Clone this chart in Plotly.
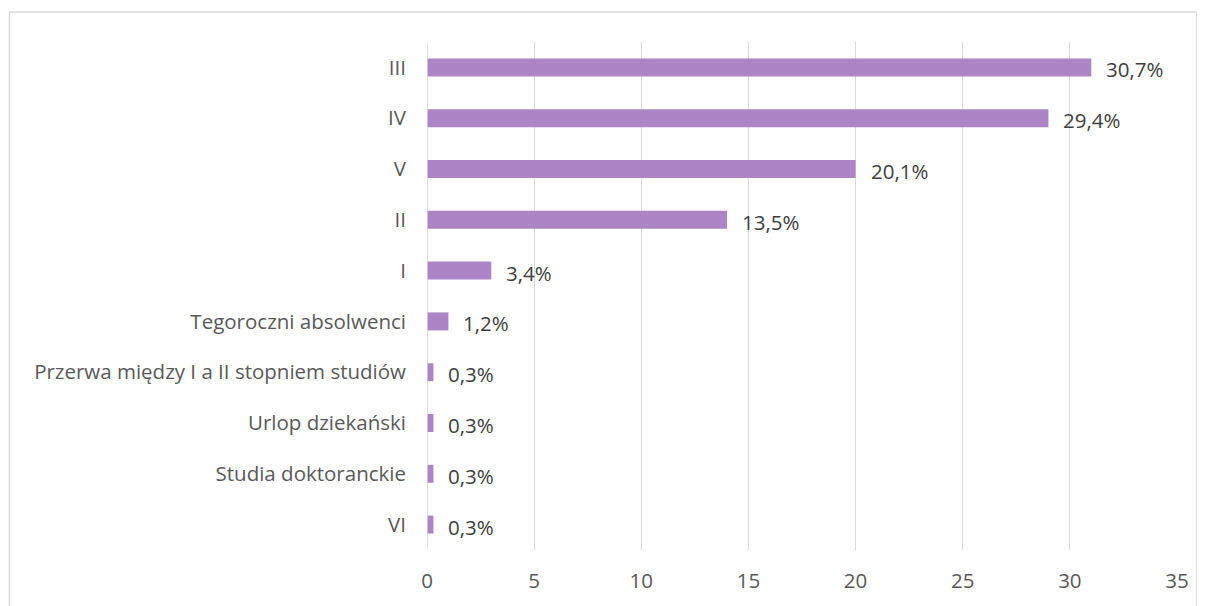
import plotly.graph_objects as go

categories = ["III", "IV", "V", "II", "I", "Tegoroczni absolwenci",
              "Przerwa między I a II stopniem studiów", "Urlop dziekański",
              "Studia doktoranckie", "VI"]
values = [31, 29, 20, 14, 3, 1, 0.3, 0.3, 0.3, 0.3]
labels = ["30,7%", "29,4%", "20,1%", "13,5%", "3,4%", "1,2%", "0,3%", "0,3%", "0,3%", "0,3%"]
x_ticks = [0, 5, 10, 15, 20, 25, 30, 35]

FONT = "Open Sans"
BAR = "#AD84C6"
FS = 20.5

# page has 8px body margin; compensate
L, T = 427 - 8, 42 - 8
R = 1205 + 8 - 1177
B = 606 + 8 - 550
PW = 750
PH = 508

fig = go.Figure()
fig.add_trace(go.Bar(
    y=categories, x=values, orientation="h",
    marker=dict(color=BAR, line=dict(width=0)),
    hoverinfo="skip",
))

for c, v, t in zip(categories, values, labels):
    fig.add_annotation(x=v, y=c, text=t, showarrow=False, xanchor="left",
                       xshift=13, yshift=-2,
                       font=dict(family=FONT, size=FS, color="#404040"))

fig.update_layout(
    width=1205, height=606,
    margin=dict(l=L, r=R, t=T, b=B),
    paper_bgcolor="white", plot_bgcolor="white",
    showlegend=False,
    bargap=0.646,
    xaxis=dict(range=[0, 35], tickvals=x_ticks, showgrid=True, gridcolor="#D9D9D9",
               gridwidth=1.3, zeroline=False, showline=False, ticks="",
               tickfont=dict(family=FONT, size=FS, color="#595959"), ticklabelstandoff=16,
               fixedrange=True),
    yaxis=dict(categoryorder="array", categoryarray=categories[::-1],
               showgrid=False, zeroline=False, showline=False, ticks="",
               tickfont=dict(family=FONT, size=FS, color="#595959"), ticklabelstandoff=20,
               fixedrange=True),
    shapes=[
        dict(type="line", xref="x", yref="paper", x0=0, x1=0, y0=0, y1=1,
             line=dict(color="#D9D9D9", width=1.5)),
        dict(type="rect", xref="paper", yref="paper",
             x0=(9.5 - 427) / PW, x1=(1197 - 427) / PW,
             y0=-0.3, y1=1 + (42 - 12) / PH,
             line=dict(color="#D9D9D9", width=1.5), fillcolor="rgba(0,0,0,0)", layer="below"),
    ],
)

fig.write_html("out.html")
